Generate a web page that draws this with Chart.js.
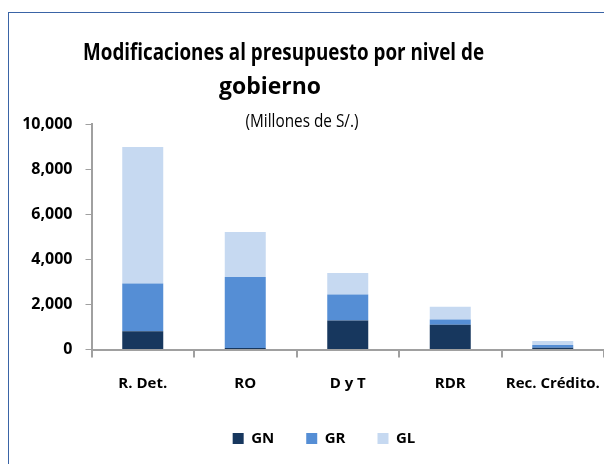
<!DOCTYPE html>
<html>
<head>
<meta charset="utf-8">
<script src="https://cdn.jsdelivr.net/npm/chart.js@4.4.1/dist/chart.umd.min.js"></script>
<style>
    html, body { margin: 0; padding: 0; background: #fff; overflow: hidden; }
    #wrap { position: relative; width: 604px; height: 464px; }
    #frame {
        position: absolute; left: 8px; top: 12px; width: 900px; height: 900px;
        border-left: 1.5px solid #3a64a6; border-top: 1.5px solid #3a64a6;
    }
    canvas { position: absolute; left: 0; top: 0; }
</style>
</head>
<body>
<div id="wrap">
    <div id="frame"></div>
    <canvas id="Chart" width="604" height="464"></canvas>
</div>
<script>
// data (millones de S/.)
const categories = ["R. Det.", "RO", "D y T", "RDR", "Rec. Crédito."];
const gn = [810, 70, 1290, 1100, 80];
const gr = [2120, 3145, 1150, 230, 120];
const gl = [6050, 2000, 950, 570, 180];
const yTicks = [0, 2000, 4000, 6000, 8000, 10000];

const titleLines = ["Modificaciones al presupuesto por nivel de", "gobierno"];
const subtitle = "(Millones de S/.)";

const FONT = "'Open Sans', Lato, sans-serif";

// titulo dibujado a mano (va encima del area del grafico, como en Excel)
const titlePlugin = {
    id: "titles",
    afterLayout(chart) {
        // la leyenda de Excel queda algo corrida a la derecha
        chart.legend.left = 44;
    },
    afterDraw(chart) {
        const ctx = chart.ctx;
        ctx.save();
        ctx.fillStyle = "#000";
        ctx.textAlign = "center";
        ctx.textBaseline = "alphabetic";
        ctx.font = "bold 24px " + FONT;
        ctx.fillText(titleLines[0], 283.5, 60, 401);
        ctx.fillText(titleLines[1], 270, 94, 102);
        ctx.font = "19px " + FONT;
        ctx.fillText(subtitle, 302, 127, 113);
        ctx.restore();
    },
};

const axisGray = "#a0a0a0";

new Chart(document.getElementById("Chart").getContext("2d"), {
    type: "bar",
    data: {
        labels: categories,
        datasets: [
            { label: "GN", data: gn, backgroundColor: "#17375e" },
            { label: "GR", data: gr, backgroundColor: "#558ed5" },
            { label: "GL", data: gl, backgroundColor: "#c6d9f1" },
        ],
    },
    options: {
        responsive: false,
        animation: false,
        layout: { padding: { top: 124, left: 0, right: 0, bottom: 8 } },
        datasets: { bar: { barPercentage: 1, categoryPercentage: 0.4, borderWidth: 0 } },
        scales: {
            x: {
                stacked: true,
                grid: { drawOnChartArea: false, drawTicks: true, tickLength: 8, color: axisGray, lineWidth: 2 },
                border: { display: true, color: axisGray, width: 2 },
                ticks: { color: "#000", font: { family: FONT, size: 15, weight: "bold" }, padding: 17, maxRotation: 0 },
                afterFit(scale) {
                    scale.height = 49.5;
                    scale.paddingLeft = 0;
                    scale.paddingRight = 0;
                },
            },
            y: {
                stacked: true,
                min: 0,
                max: 10000,
                afterBuildTicks(scale) { scale.ticks = yTicks.map(v => ({ value: v })); },
                grid: { drawOnChartArea: false, drawTicks: true, tickLength: 6, color: axisGray, lineWidth: 1 },
                border: { display: true, color: axisGray, width: 2 },
                ticks: {
                    color: "#000",
                    font: { family: FONT, size: 16, weight: "bold" },
                    padding: 13,
                    callback: v => v.toLocaleString("en-US"),
                },
                afterFit(scale) { scale.width = 91.5; },
            },
        },
        plugins: {
            legend: {
                position: "bottom",
                labels: {
                    color: "#000",
                    boxWidth: 11,
                    boxHeight: 11,
                    padding: 32,
                    font: { family: FONT, size: 15, weight: "bold" },
                },
            },
            title: { display: false },
            tooltip: { enabled: false },
        },
    },
    plugins: [titlePlugin],
});
</script>
</body>
</html>
